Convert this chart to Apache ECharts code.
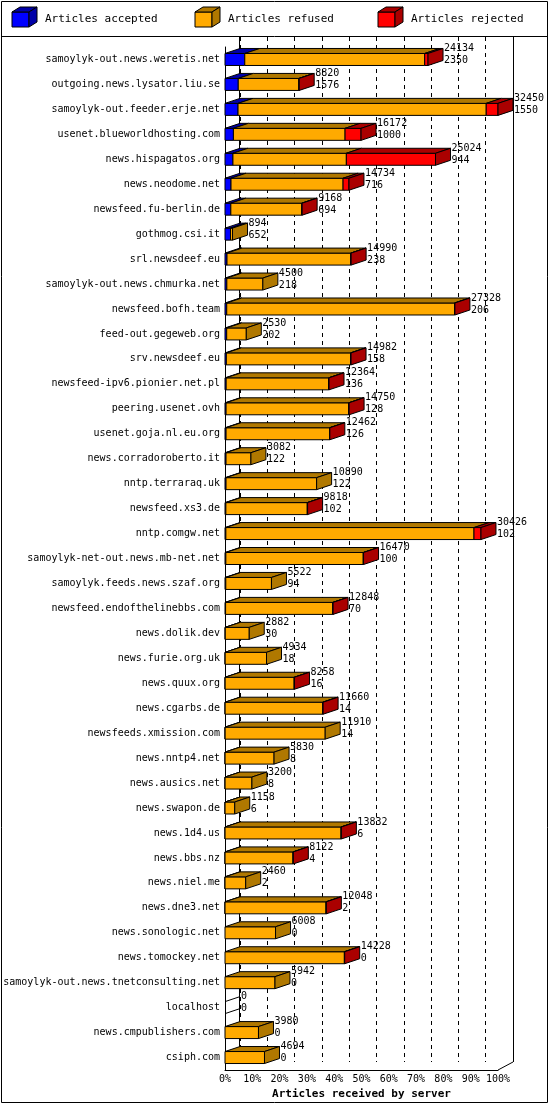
<!DOCTYPE html><html><head><meta charset="utf-8">
<script src="https://cdn.jsdelivr.net/npm/echarts@6/dist/echarts.min.js"></script>
<style>html,body{margin:0;padding:0;background:#fff}#c{width:550px;height:1105px}</style></head><body><div id="c"></div>
<script>
const servers=["samoylyk-out.news.weretis.net","outgoing.news.lysator.liu.se","samoylyk-out.feeder.erje.net","usenet.blueworldhosting.com","news.hispagatos.org","news.neodome.net","newsfeed.fu-berlin.de","gothmog.csi.it","srl.newsdeef.eu","samoylyk-out.news.chmurka.net","newsfeed.bofh.team","feed-out.gegeweb.org","srv.newsdeef.eu","newsfeed-ipv6.pionier.net.pl","peering.usenet.ovh","usenet.goja.nl.eu.org","news.corradoroberto.it","nntp.terraraq.uk","newsfeed.xs3.de","nntp.comgw.net","samoylyk-net-out.news.mb-net.net","samoylyk.feeds.news.szaf.org","newsfeed.endofthelinebbs.com","news.dolik.dev","news.furie.org.uk","news.quux.org","news.cgarbs.de","newsfeeds.xmission.com","news.nntp4.net","news.ausics.net","news.swapon.de","news.1d4.us","news.bbs.nz","news.niel.me","news.dne3.net","news.sonologic.net","news.tomockey.net","samoylyk-out.news.tnetconsulting.net","localhost","news.cmpublishers.com","csiph.com"];
const totals=[24134,8820,32450,16172,25024,14734,9168,894,14990,4500,27328,2530,14982,12364,14750,12462,3082,10890,9818,30426,16470,5522,12848,2882,4934,8258,11660,11910,5830,3200,1158,13832,8122,2460,12048,6008,14228,5942,0,3980,4694];
const accepted=[2350,1576,1550,1000,944,716,694,652,238,218,206,202,158,136,128,126,122,122,102,102,100,94,70,30,18,16,14,14,8,8,6,6,4,2,2,0,0,0,0,0,0];
const rejected=[400,40,1400,1900,10600,700,40,0,40,0,40,0,40,40,40,40,0,0,40,830,40,0,40,0,0,40,40,0,0,0,0,40,40,0,40,0,40,0,0,0,0];
const tickLabels=["0%","10%","20%","30%","40%","50%","60%","70%","80%","90%","100%"];
const MAX=32450, DX=15, DY=5, H=12;
const col={a:["#0000ff","#0000a8"],f:["#ffaa00","#b07800"],r:["#ff0000","#aa0000"]};
const data=servers.map((s,i)=>[i,accepted[i],totals[i]-accepted[i]-rejected[i],rejected[i],totals[i]]);
const F='"DejaVu Sans Mono",monospace';
function renderItem(params,api){
  const i=api.value(0),a=api.value(1),f=api.value(2),r=api.value(3),t=api.value(4);
  const segs=[[0,a,col.a],[a,a+f,col.f],[a+f,a+f+r,col.r]];
  const ch=[];const c0=api.coord([0,i]);const y0=c0[1]-H/2;let last=null,xe=c0[0];
  segs.forEach(([s,e,c])=>{if(e-s<=0)return;const x1=api.coord([s,i])[0],x2=api.coord([e,i])[0];
    ch.push({type:'rect',shape:{x:x1,y:y0,width:x2-x1,height:H},style:{fill:c[0],stroke:'#000',lineWidth:1}});
    ch.push({type:'polygon',shape:{points:[[x1,y0],[x2,y0],[x2+DX,y0-DY],[x1+DX,y0-DY]]},style:{fill:c[1],stroke:'#000',lineWidth:1}});
    last=c;xe=x2;});
  if(last)ch.push({type:'polygon',shape:{points:[[xe,y0],[xe+DX,y0-DY],[xe+DX,y0+H-DY],[xe,y0+H]]},style:{fill:last[1],stroke:'#000',lineWidth:1}});
  else{ch.push({type:'polyline',shape:{points:[[xe,y0],[xe+DX,y0-DY]]},style:{stroke:'#000',fill:null}});ch.push({type:'polyline',shape:{points:[[xe,y0+H],[xe+DX,y0+H-DY]]},style:{stroke:'#000',fill:null}});}
  ch.push({type:'text',style:{x:xe+DX+1,y:c0[1]-17,text:String(t)+'\n'+String(a),font:'10px '+F,fill:'#000',lineHeight:12,verticalAlign:'top'}});
  return {type:'group',children:ch};
}
function leg(x,c,label){return [
 {type:'rect',shape:{x:x,y:12,width:17,height:15},style:{fill:c[0],stroke:'#000'}},
 {type:'polygon',shape:{points:[[x,12],[x+17,12],[x+25,7],[x+8,7]]},style:{fill:c[1],stroke:'#000'}},
 {type:'polygon',shape:{points:[[x+17,12],[x+25,7],[x+25,22],[x+17,27]]},style:{fill:c[1],stroke:'#000'}},
 {type:'text',x:x+33,y:14,style:{text:label,font:'11px '+F,fill:'#000'}}];}
const chart=echarts.init(document.getElementById('c'));
chart.setOption({animation:false,backgroundColor:'#fff',
 grid:[{left:225,right:52,top:47,bottom:35},{left:240,right:37,top:37,bottom:43}],
 xAxis:[{gridIndex:0,type:'value',min:0,max:MAX,interval:MAX/10,axisLine:{show:true,lineStyle:{color:'#000'}},axisTick:{show:false},splitLine:{show:false},
   axisLabel:{formatter:(v)=>tickLabels[Math.round(v/(MAX/10))],font:'10px '+F,fontFamily:'DejaVu Sans Mono',fontSize:10,color:'#000',margin:4},
   name:'Articles received by server',nameLocation:'middle',nameGap:17,nameTextStyle:{fontFamily:'DejaVu Sans Mono',fontSize:11,fontWeight:'bold',color:'#000'}},
  {gridIndex:1,type:'value',min:0,max:MAX,interval:MAX/10,axisLine:{show:false},axisLabel:{show:false},axisTick:{show:false},splitLine:{show:true,lineStyle:{color:'#000',type:[4,4]}}}],
 yAxis:[{gridIndex:0,type:'category',data:servers,inverse:true,axisLine:{show:true,lineStyle:{color:'#000'}},axisTick:{show:false},axisLabel:{fontFamily:'DejaVu Sans Mono',fontSize:10,color:'#000',margin:5}},
  {gridIndex:1,type:'value',show:false}],
 series:[{type:'custom',xAxisIndex:0,yAxisIndex:0,renderItem:renderItem,data:data,encode:{x:[1],y:0},clip:false}],
 graphic:[{type:'rect',shape:{x:1.5,y:1.5,width:546,height:1101},style:{fill:null,stroke:'#000'}},
  {type:'line',shape:{x1:1,y1:36.5,x2:548,y2:36.5},style:{stroke:'#000'}},
  {type:'line',shape:{x1:239.5,y1:37,x2:239.5,y2:1062},style:{stroke:'#000'}},
  {type:'line',shape:{x1:513.5,y1:37,x2:513.5,y2:1062},style:{stroke:'#000'}},
  {type:'line',shape:{x1:498,y1:1070,x2:513,y2:1062},style:{stroke:'#000'}},
  ...leg(12,col.a,'Articles accepted'),...leg(195,col.f,'Articles refused'),...leg(378,col.r,'Articles rejected')]
});
</script></body></html>
